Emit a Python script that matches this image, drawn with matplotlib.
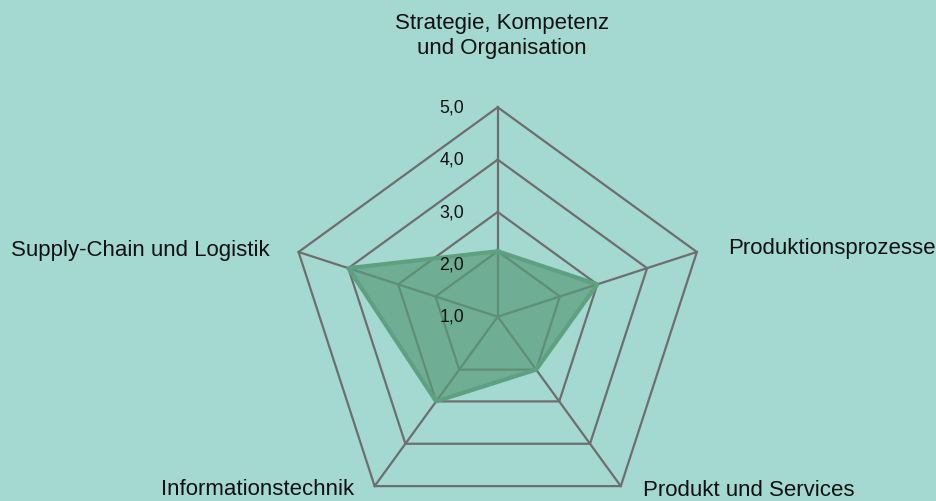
import numpy as np
import matplotlib.pyplot as plt

plt.rcParams['font.family'] = ['Liberation Sans', 'DejaVu Sans']

# Daten
categories = ["Strategie, Kompetenz\nund Organisation", "Produktionsprozesse",
              "Produkt und Services", "Informationstechnik", "Supply-Chain und Logistik"]
values = [2.25, 3.0, 2.25, 3.0, 4.0]
ring_levels = [2.25, 3.0, 4.0, 5.0]
tick_values = [1.0, 2.0, 3.0, 4.0, 5.0]

bg = '#a3d9d1'
grid_col = '#6e6e6e'

W, H = 937, 501
fig = plt.figure(figsize=(W / 100, H / 100), dpi=100)
fig.patch.set_facecolor(bg)

# Mittelpunkt und Radius in Pixeln
cx, cy, R = 497.7, 316.7, 209.4
ax = fig.add_axes([(cx - R) / W, (H - cy - R) / H, 2 * R / W, 2 * R / H], projection='polar')
ax.set_theta_offset(np.pi / 2)
ax.set_theta_direction(-1)
ax.set_ylim(1, 5)
ax.set_axis_off()

angles = np.linspace(0, 2 * np.pi, len(categories), endpoint=False)
closed = np.append(angles, angles[0])

# Gitternetz
for lvl in ring_levels:
    ax.plot(closed, [lvl] * len(closed), color=grid_col, lw=1.6, zorder=1, clip_on=False)
for a in angles:
    ax.plot([a, a], [1, 5], color=grid_col, lw=1.6, zorder=1, clip_on=False)

# Datenreihe
vals = values + values[:1]
ax.fill(closed, vals, color='#599c7a', alpha=0.7, lw=0, zorder=2)
ax.plot(closed, vals, color='#5fa080', lw=3, zorder=3)

# Achsenbeschriftung
for v in tick_values:
    ax.annotate(f"{v:.1f}".replace('.', ','), xy=(0, v), xytext=(-24.3, -3.6),
                textcoords='offset points', ha='right', va='baseline',
                fontsize=12.8, color='#111111', zorder=5)

# Kategorien (Pixelpositionen)
def label(x, y, s, ha, va='baseline'):
    fig.text(x / W, 1 - y / H, s, ha=ha, va=va, fontsize=16, color='#111111',
             linespacing=1.25)

label(502, 36, categories[0], 'center', 'center')
label(728, 254.3, categories[1], 'left')
label(642.7, 496, categories[2], 'left')
label(354, 495, categories[3], 'right')
label(270, 255.7, categories[4], 'right')

fig.savefig('out.png', dpi=100, facecolor=bg)
